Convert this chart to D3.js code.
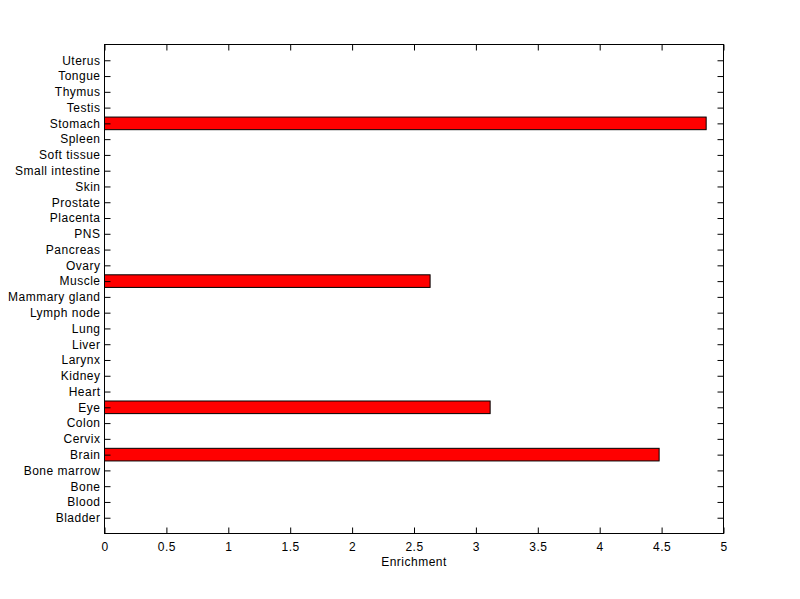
<!DOCTYPE html>
<html><head><meta charset="utf-8">
<script src="https://cdn.jsdelivr.net/npm/d3@7"></script>
<style>body{margin:0;background:#fff;} text{font-family:"Liberation Sans",Arial,sans-serif;letter-spacing:0.5px;}</style>
</head><body>
<svg id="c" width="800" height="599"></svg>
<script>
const categories = ["Bladder","Blood","Bone","Bone marrow","Brain","Cervix","Colon","Eye","Heart","Kidney","Larynx","Liver","Lung","Lymph node","Mammary gland","Muscle","Ovary","Pancreas","PNS","Placenta","Prostate","Skin","Small intestine","Soft tissue","Spleen","Stomach","Testis","Thymus","Tongue","Uterus"];
const values = [0,0,0,0,4.48,0,0,3.115,0,0,0,0,0,0,0,2.63,0,0,0,0,0,0,0,0,0,4.86,0,0,0,0];
const xTicks = [0,0.5,1,1.5,2,2.5,3,3.5,4,4.5,5];

const svg = d3.select("#c");
const L=104.5, R=723.5, T=44.5, B=533.5;
const x = d3.scaleLinear().domain([0,5]).range([L,R]);
const y = d3.scaleLinear().domain([0,31]).range([B,T]);
const bw = 0.8;

const data = categories.map((c,i)=>({c, v: values[i], pos: i+1}));

svg.append("g").selectAll("rect").data(data.filter(d=>d.v>0)).join("rect")
  .attr("x", x(0)).attr("y", d=>y(d.pos+bw/2))
  .attr("width", d=>x(d.v)-x(0)).attr("height", d=>y(d.pos-bw/2)-y(d.pos+bw/2))
  .attr("fill","#ff0000").attr("stroke","#000").attr("stroke-width",1);

const fmt = d=>String(d);
const styleText = g=>g.selectAll("text").attr("font-size",12).attr("fill","#000").style("font-family","Liberation Sans, Arial, sans-serif");
// bottom axis
svg.append("g").attr("transform",`translate(0,${B})`)
  .call(d3.axisBottom(x).tickValues(xTicks).tickFormat(fmt).tickSizeInner(-6).tickSizeOuter(0).tickPadding(9))
  .call(g=>{g.select(".domain").remove();styleText(g);});
// top axis ticks
svg.append("g").attr("transform",`translate(0,${T})`)
  .call(d3.axisTop(x).tickValues(xTicks).tickFormat("").tickSizeInner(-6).tickSizeOuter(0))
  .call(g=>g.select(".domain").remove());
// left axis
svg.append("g").attr("transform",`translate(${L},0)`)
  .call(d3.axisLeft(y).tickValues(d3.range(1,31)).tickFormat(d=>categories[d-1]).tickSizeInner(-6).tickSizeOuter(0).tickPadding(4))
  .call(g=>{g.select(".domain").remove();styleText(g);});
// right axis
svg.append("g").attr("transform",`translate(${R},0)`)
  .call(d3.axisRight(y).tickValues(d3.range(1,31)).tickFormat("").tickSizeInner(-6).tickSizeOuter(0))
  .call(g=>g.select(".domain").remove());
// box
svg.append("rect").attr("x",L).attr("y",T).attr("width",R-L).attr("height",B-T)
  .attr("fill","none").attr("stroke","#000").attr("stroke-width",1);
svg.append("text").attr("x",(L+R)/2).attr("y",566).attr("text-anchor","middle")
  .attr("font-size",12).attr("fill","#000").text("Enrichment");
</script>
</body></html>
